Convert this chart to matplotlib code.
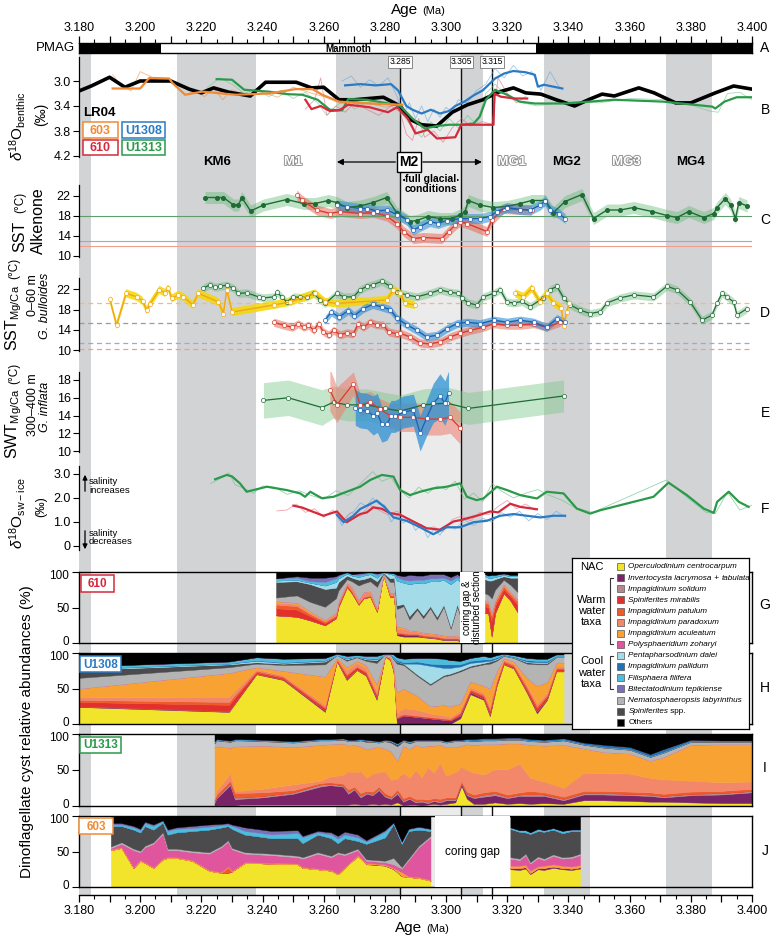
import numpy as np
import matplotlib

matplotlib.use("Agg")
import matplotlib.pyplot as plt
import matplotlib.patheffects as pe
import matplotlib.transforms as mtransforms
from matplotlib.patches import Rectangle

plt.rcParams["font.family"] = ["Liberation Sans", "DejaVu Sans"]
plt.rcParams["mathtext.fontset"] = "custom"
plt.rcParams["mathtext.rm"] = "Liberation Sans"
plt.rcParams["mathtext.it"] = "Liberation Sans:italic"
plt.rcParams["mathtext.bf"] = "Liberation Sans:bold"

nan = np.nan

# ---------------- stratigraphy ----------------
dark_bands = [(3.180, 3.184), (3.212, 3.238), (3.264, 3.285), (3.305, 3.312), (3.332, 3.347), (3.372, 3.387)]
light_band = (3.285, 3.305)
event_lines = [3.285, 3.305, 3.315]
pmag_black = [(3.180, 3.2068), (3.3295, 3.400)]
stage_names = ["KM6", "M1", "MG1", "MG2", "MG3", "MG4"]
stage_ages = [3.2250, 3.2500, 3.3215, 3.3395, 3.3590, 3.3800]
stage_bold = [True, False, False, True, False, True]

# ---------------- B: benthic d18O ----------------
lr04_age = [3.180, 3.184, 3.190, 3.195, 3.200, 3.210, 3.216, 3.220, 3.224, 3.229, 3.236, 3.241, 3.251, 3.256, 3.260,
            3.265, 3.270, 3.2795, 3.285, 3.288, 3.292, 3.297, 3.302, 3.307, 3.312, 3.317, 3.322, 3.326, 3.331, 3.336,
            3.342, 3.347, 3.351, 3.355, 3.363, 3.368, 3.375, 3.380, 3.388, 3.394, 3.400]
lr04_d18o = [3.16, 3.08, 2.94, 3.10, 3.00, 3.00, 3.13, 3.19, 3.11, 3.18, 3.24, 3.02, 3.02, 3.11, 3.10, 3.30, 3.30, 3.26,
             3.40, 3.61, 3.70, 3.72, 3.50, 3.38, 3.30, 3.18, 3.11, 3.19, 3.21, 3.30, 3.40, 3.29, 3.21, 3.24, 3.11, 3.19,
             3.35, 3.35, 3.19, 3.08, 3.13]
b603_age = [3.191, 3.200, 3.203, 3.2095, 3.2105, 3.2147, 3.2203, 3.2312, 3.2421, 3.2508, 3.2563, 3.2595, 3.2650, 3.2748, 3.2857]
b603_d18o = [3.12, 3.12, 2.95, 2.96, 3.03, 3.22, 3.17, 3.22, 3.20, 3.13, 3.13, 3.22, 3.33, 3.36, 3.38]
b610_age = [3.254, 3.256, 3.259, 3.262, 3.265, 3.268, 3.275, 3.281, 3.284, 3.2875, 3.290, 3.294, 3.297, 3.303, 3.305,
            3.3155, 3.3158, 3.3178, 3.3222, 3.3265]
b610_d18o = [3.30, 3.45, 3.40, 3.48, 3.47, 3.38, 3.42, 3.50, 3.42, 3.60, 3.84, 3.78, 3.92, 3.90, 3.70, 3.70, 3.20, 3.25,
             3.28, 3.28]
b1308_age = [3.267, 3.272, 3.277, 3.282, 3.2843, 3.287, 3.289, 3.292, 3.295, 3.298, 3.301, 3.303, 3.306, 3.309, 3.312,
             3.316, 3.319, 3.322, 3.326, 3.329, 3.330, 3.332, 3.338]
b1308_d18o = [3.07, 3.05, 3.07, 3.05, 3.15, 3.40, 3.46, 3.52, 3.46, 3.52, 3.48, 3.40, 3.33, 3.23, 3.15, 2.96, 2.88, 2.84,
              2.86, 2.90, 3.09, 3.06, 3.12]
b1313_age = [3.225, 3.230, 3.234, 3.242, 3.248, 3.253, 3.258, 3.262, 3.266, 3.268, 3.274, 3.280, 3.285, 3.289, 3.293,
             3.297, 3.301, 3.305, 3.309, 3.311, 3.313, 3.316, 3.320, 3.324, 3.329, 3.339, 3.355, 3.371, 3.387, 3.388,
             3.391, 3.395, 3.400]
b1313_d18o = [2.97, 2.98, 3.14, 3.17, 3.21, 3.22, 3.30, 3.46, 3.47, 3.29, 3.30, 3.35, 3.40, 3.60, 3.76, 3.72, 3.70, 3.70,
              3.68, 3.57, 3.30, 3.14, 3.22, 3.33, 3.36, 3.36, 3.30, 3.33, 3.41, 3.44, 3.33, 3.26, 3.26]
b603_raw_age = [3.191, 3.194, 3.197, 3.200, 3.203, 3.206, 3.209, 3.212, 3.215, 3.218, 3.221, 3.224, 3.227, 3.230, 3.233,
                3.236, 3.240, 3.245, 3.250, 3.255, 3.260, 3.265, 3.270, 3.275, 3.280, 3.285]
b603_raw = [2.90, 3.08, 3.16, 2.85, 2.92, 3.00, 2.98, 3.10, 3.22, 3.15, 3.25, 3.12, 3.30, 3.14, 3.20, 3.24, 3.18, 3.26,
            3.10, 3.18, 3.25, 3.35, 3.40, 3.34, 3.42, 3.36]
b610_raw_age = [3.254, 3.257, 3.259, 3.261, 3.264, 3.267, 3.270, 3.274, 3.278, 3.282, 3.285, 3.287, 3.289, 3.291, 3.293,
                3.296, 3.299, 3.302, 3.305, 3.308, 3.312, 3.315, 3.317, 3.320, 3.323, 3.326]
b610_raw = [3.45, 3.30, 2.95, 3.55, 3.40, 3.50, 3.35, 3.45, 3.55, 3.40, 3.50, 3.85, 3.95, 3.60, 3.90, 3.80, 3.98, 3.75,
            3.60, 3.72, 3.65, 3.70, 2.95, 3.20, 3.35, 3.25]
b1308_raw_age = [3.266, 3.269, 3.272, 3.275, 3.278, 3.281, 3.284, 3.286, 3.288, 3.290, 3.292, 3.294, 3.296, 3.298, 3.300,
                 3.302, 3.304, 3.307, 3.310, 3.313, 3.316, 3.319, 3.322, 3.325, 3.328, 3.331, 3.334, 3.337]
b1308_raw = [3.0, 2.92, 3.10, 2.98, 3.08, 2.95, 3.25, 3.55, 3.35, 3.60, 3.40, 3.65, 3.45, 3.58, 3.42, 3.50, 3.30, 3.35,
             3.15, 3.05, 2.80, 2.95, 2.75, 2.92, 2.85, 3.15, 2.85, 3.10]
b1313_raw_age = [3.222, 3.226, 3.230, 3.234, 3.238, 3.242, 3.246, 3.250, 3.254, 3.258, 3.261, 3.264, 3.267, 3.270, 3.274,
                 3.278, 3.282, 3.286, 3.289, 3.292, 3.295, 3.298, 3.301, 3.304, 3.307, 3.310, 3.313, 3.316, 3.320, 3.325,
                 3.330, 3.340, 3.350, 3.360, 3.372, 3.380, 3.386, 3.389, 3.392, 3.396, 3.400]
b1313_raw = [3.10, 2.95, 3.05, 3.20, 3.12, 3.25, 3.15, 3.28, 3.18, 3.35, 3.55, 3.40, 3.30, 3.45, 3.35, 3.40, 3.30, 3.55,
             3.75, 3.90, 3.65, 3.80, 3.60, 3.75, 3.55, 3.70, 3.20, 3.05, 3.25, 3.35, 3.40, 3.32, 3.35, 3.28, 3.30, 3.38,
             3.48, 3.50, 3.20, 3.18, 3.30]

# ---------------- C: alkenone SST ----------------
c1313_age = [3.2212, 3.2250, 3.2272, 3.2305, 3.2321, 3.2332, 3.2361, 3.2403, 3.2479, 3.2534, 3.2572, 3.2615, 3.2643,
             3.2675, 3.2719, 3.2762, 3.2806, 3.2839, 3.2882, 3.2904, 3.2941, 3.2980, 3.3019, 3.3046, 3.3062, 3.3073,
             3.3111, 3.3154, 3.3199, 3.3242, 3.3280, 3.3324, 3.3351, 3.3389, 3.3444, 3.3482, 3.3526, 3.3569, 3.3613,
             3.3673, 3.3722, 3.3755, 3.3793, 3.3842, 3.3875, 3.3886, 3.3913, 3.3930, 3.3946, 3.3957, 3.3984]
c1313_sst = [21.7, 21.7, 21.7, 20.2, 20.2, 21.7, 19.0, 20.2, 21.3, 20.5, 20.5, 21.1, 20.7, 19.7, 20.0, 20.7, 21.7, 18.6,
             16.9, 17.1, 17.9, 17.5, 17.5, 18.2, 18.9, 21.1, 20.2, 19.7, 19.9, 20.5, 21.1, 21.1, 18.7, 20.9, 22.3, 17.5,
             19.2, 19.2, 19.7, 18.9, 18.1, 17.7, 18.9, 17.7, 18.5, 19.7, 21.5, 20.2, 17.5, 20.7, 20.0]
c610_age = [3.2512, 3.2528, 3.2577, 3.2621, 3.2654, 3.2719, 3.2762, 3.2806, 3.2839, 3.2861, 3.2893, 3.2926, 3.2986,
            3.3008, 3.3030, 3.3046, 3.3068, 3.3133, 3.3150, 3.3188, 3.3242, 3.3280]
c610_sst = [22.2, 21.2, 19.2, 18.5, 18.9, 18.5, 18.7, 18.0, 16.5, 14.9, 13.5, 13.7, 13.5, 14.9, 16.2, 16.9, 16.5, 14.9,
            17.2, 19.5, 19.3, 19.2]
c1308_age = [3.2643, 3.2675, 3.2719, 3.2741, 3.2773, 3.2806, 3.2839, 3.2871, 3.2893, 3.2915, 3.2947, 3.2974, 3.3002,
             3.3046, 3.3079, 3.3111, 3.3144, 3.3166, 3.3199, 3.3242, 3.3275, 3.3308, 3.3324, 3.3341, 3.3368, 3.3389]
c1308_sst = [20.2, 19.9, 19.5, 19.5, 19.0, 19.2, 18.3, 17.3, 15.2, 15.9, 16.9, 16.5, 17.1, 17.5, 17.5, 17.5, 17.9, 18.9,
             19.7, 19.3, 19.2, 20.2, 21.1, 19.2, 18.5, 17.5]
c_modern = [18.1, 13.1, 12.0]  # U1313, U1308, 610 core-top

# ---------------- D: Mg/Ca SST G. bulloides ----------------
d603_age = [3.1901, 3.1923, 3.1954, 3.1989, 3.2008, 3.2021, 3.2032, 3.2063, 3.2081, 3.2092, 3.2103, 3.2125, 3.2141,
            3.2172, 3.2190, 3.2256, 3.2272, 3.2283, 3.2301, 3.2436, 3.2490, 3.2572, 3.2605, 3.2643, 3.2806, 3.2828,
            3.2850, 3.2865, 3.2898, nan, 3.3226, 3.3253, 3.3280, 3.3307, 3.3329, 3.3351, 3.3377, 3.3384, 3.3395, 3.3402]
d603_sst = [20.0, 14.9, 21.2, 20.5, 19.7, 17.9, 19.1, 21.9, 21.3, 22.2, 20.2, 20.9, 20.5, 18.9, 21.2, 19.5, 17.2, 21.9,
            17.5, 18.9, 19.5, 21.2, 19.5, 19.2, 19.9, 21.9, 21.2, 19.3, 18.9, nan, 21.2, 20.5, 22.2, 19.5, 21.2, 19.3,
            18.3, 14.7, 17.6, 19.3]
d1313_age = [3.2206, 3.2228, 3.2245, 3.2261, 3.2283, 3.2305, 3.2321, 3.2348, 3.2387, 3.2403, 3.2436, 3.2447, 3.2463,
             3.2479, 3.2501, 3.2523, 3.2545, 3.2567, 3.2588, 3.2605, 3.2643, 3.2665, 3.2697, 3.2719, 3.2741, 3.2762,
             3.2790, 3.2817, 3.2839, 3.2871, 3.2904, 3.2947, 3.2980, 3.3013, 3.3040, 3.3051, 3.3073, 3.3100, 3.3122,
             3.3155, 3.3177, 3.3199, 3.3221, 3.3248, 3.3275, 3.3318, 3.3340, 3.3362, 3.3384, 3.3406, 3.3438, 3.3471,
             3.3504, 3.3526, 3.3569, 3.3613, 3.3678, 3.3722, 3.3755, 3.3798, 3.3837, 3.3869, 3.3886, 3.3902, 3.3918,
             3.3940, 3.3951, 3.3984]
d1313_sst = [22.2, 22.9, 22.4, 22.6, 22.8, 22.2, 21.2, 21.3, 20.5, 20.3, 20.5, 21.4, 20.5, 19.5, 20.5, 20.4, 20.5, 21.2,
             19.9, 19.2, 21.2, 20.5, 20.5, 21.9, 22.6, 22.9, 23.6, 22.6, 21.4, 20.9, 20.5, 21.2, 21.9, 21.4, 21.2, 20.3,
             19.3, 18.9, 20.5, 21.2, 21.9, 19.5, 19.3, 19.6, 18.6, 20.3, 21.9, 22.6, 20.3, 18.9, 17.9, 17.2, 17.6, 19.3,
             20.3, 20.9, 20.5, 22.6, 21.9, 19.5, 15.9, 16.9, 19.3, 21.2, 20.5, 19.5, 16.9, 18.2]
d610_age = [3.2436, 3.2469, 3.2497, 3.2517, 3.2534, 3.2550, 3.2567, 3.2583, 3.2599, 3.2616, 3.2632, 3.2654, 3.2675,
            3.2697, 3.2713, 3.2730, 3.2752, 3.2773, 3.2795, 3.2812, 3.2839, 3.2850, 3.2882, 3.2915, 3.2947, 3.2980,
            3.3013, 3.3046, 3.3079, 3.3122, 3.3155, 3.3199, 3.3242, 3.3286, 3.3329, 3.3373]
d610_sst = [15.5, 14.9, 14.5, 15.2, 14.5, 14.9, 13.9, 15.2, 13.6, 13.0, 13.9, 13.0, 13.4, 13.2, 15.2, 14.5, 15.5, 15.0,
            14.9, 13.6, 13.2, 13.3, 12.6, 11.4, 11.2, 11.6, 12.6, 13.3, 13.9, 14.5, 15.2, 14.9, 14.9, 15.2, 14.5, 15.5]
d1308_age = [3.2605, 3.2625, 3.2650, 3.2680, 3.2700, 3.2730, 3.2760, 3.2790, 3.2817, 3.2839, 3.2871, 3.2904, 3.2936,
             3.2969, 3.3002, 3.3035, 3.3068, 3.3111, 3.3155, 3.3199, 3.3242, 3.3286, 3.3329, 3.3362, 3.3389]
d1308_sst = [16.0, 17.5, 16.5, 17.8, 16.8, 18.2, 19.0, 18.5, 18.0, 16.3, 15.0, 13.9, 12.6, 12.9, 14.2, 15.2, 15.5, 15.2,
             15.9, 15.5, 15.9, 15.5, 14.5, 16.2, 15.5]
d_modern = [19.2, 15.3, 11.3, 10.3]  # 603, U1313(grey), U1308, 610

# ---------------- E: Mg/Ca SWT G. inflata ----------------
e1313_age = [3.2403, 3.2484, 3.2594, 3.2632, 3.2675, 3.2741, 3.2800, 3.2850, 3.2926, 3.3002, 3.3073, 3.3384]
e1313_swt = [15.7, 16.0, 14.9, 15.5, 15.2, 15.2, 14.8, 14.5, 15.2, 15.4, 14.8, 16.2]
e1313_err = [2.0, 2.0, 2.0, 1.8, 1.8, 1.8, 1.8, 1.8, 1.8, 1.8, 1.8, 1.8]
e610_age = [3.2620, 3.2643, 3.2697, 3.2719, 3.2752, 3.2784, 3.2817, 3.2850, 3.2893, 3.2936, 3.2980, 3.3013, 3.3046]
e610_swt = [16.9, 15.2, 17.6, 15.2, 15.5, 14.7, 14.0, 13.8, 13.8, 13.6, 13.6, 13.8, 12.6]
e610_err = [2.4, 2.0, 1.3, 1.3, 1.2, 1.2, 1.4, 1.6, 1.6, 1.8, 1.8, 1.8, 1.8]
e1308_age = [3.2703, 3.2719, 3.2741, 3.2762, 3.2775, 3.2790, 3.2806, 3.2820, 3.2833, 3.2861, 3.2893, 3.2915, 3.2936,
             3.2958, 3.2980, 3.2996, 3.3008]
e1308_swt = [14.9, 14.6, 14.5, 14.0, 14.3, 13.0, 13.0, 13.9, 13.9, 14.4, 14.6, 12.0, 13.7, 15.4, 16.2, 15.4, 16.5]
e1308_err = [2.0, 2.0, 2.0, 2.2, 2.2, 2.0, 1.8, 1.8, 1.8, 1.8, 1.8, 2.0, 2.0, 2.2, 2.5, 2.5, 2.5]

# ---------------- F: d18O seawater (ice-volume corrected) ----------------
f1313_age = [3.2245, 3.2283, 3.2300, 3.2326, 3.2348, 3.2414, 3.2479, 3.2523, 3.2539, 3.2556, 3.2594, 3.2632, 3.2675,
             3.2719, 3.2752, 3.2790, 3.2828, 3.2850, 3.2882, 3.2915, 3.2958, 3.3002, 3.3046, 3.3068, 3.3100, 3.3122,
             3.3166, 3.3199, 3.3242, 3.3297, 3.3329, 3.3384, 3.3427, 3.3471, 3.3504, 3.3678, 3.3727, 3.3787, 3.3842,
             3.3875, 3.3886, 3.3924, 3.3957, 3.3989]
f1313_sw = [2.78, 2.96, 2.90, 2.61, 2.26, 2.47, 2.33, 2.19, 2.05, 2.26, 1.99, 2.05, 2.26, 2.47, 2.75, 2.96, 2.89, 2.33,
            2.12, 2.26, 2.40, 2.47, 2.61, 2.05, 1.91, 1.98, 2.47, 2.33, 2.12, 1.98, 2.26, 2.19, 1.56, 1.35, 1.49, 2.05,
            2.64, 2.12, 1.56, 1.38, 1.84, 2.26, 1.84, 1.63]
f610_age = [3.2501, 3.2530, 3.2560, 3.2599, 3.2643, 3.2675, 3.2719, 3.2741, 3.2762, 3.2790, 3.2817, 3.2850, 3.2893,
            3.2936, 3.2980, 3.3024, 3.3051, 3.3111, 3.3144, 3.3170, 3.3210, 3.3242, 3.3297]
f610_sw = [1.68, 1.60, 1.45, 1.26, 1.44, 0.99, 1.33, 1.40, 1.61, 1.55, 1.37, 1.30, 1.02, 0.74, 0.68, 1.02, 1.09, 1.30,
           1.44, 1.40, 1.76, 1.63, 1.53]
f1308_age = [3.2643, 3.2665, 3.2697, 3.2719, 3.2741, 3.2773, 3.2800, 3.2828, 3.2871, 3.2915, 3.2958, 3.3002, 3.3046,
             3.3090, 3.3133, 3.3177, 3.3221, 3.3264, 3.3308, 3.3351, 3.3389]
f1308_sw = [1.30, 0.99, 1.26, 1.54, 1.68, 1.89, 1.61, 1.19, 1.05, 0.78, 0.49, 0.78, 0.78, 0.99, 1.05, 1.26, 1.33, 1.26,
            1.19, 1.26, 1.26]
f1313_raw_age = [3.2230, 3.2260, 3.2290, 3.2310, 3.2340, 3.2370, 3.2400, 3.2440, 3.2480, 3.2520, 3.2560, 3.2600, 3.2640,
                 3.2680, 3.2720, 3.2760, 3.2790, 3.2820, 3.2850, 3.2880, 3.2910, 3.2940, 3.2970, 3.3000, 3.3030, 3.3060,
                 3.3090, 3.3120, 3.3150, 3.3180, 3.3220, 3.3260, 3.3300, 3.3340, 3.3380, 3.3420, 3.3480, 3.3720, 3.3790,
                 3.3850, 3.3880, 3.3920, 3.3960, 3.4000]
f1313_raw = [2.6, 2.8, 3.05, 2.55, 2.4, 2.2, 2.5, 2.45, 2.15, 2.3, 2.1, 1.95, 2.3, 2.1, 2.6, 3.1, 2.7, 2.85, 2.3, 2.0,
             2.45, 2.2, 2.5, 2.35, 2.7, 1.95, 2.2, 1.85, 2.6, 2.3, 2.0, 2.2, 2.35, 2.1, 1.9, 1.6, 1.4, 2.75, 2.0, 1.4,
             1.35, 2.25, 1.5, 1.7]
f610_raw_age = [3.2447, 3.2480, 3.2510, 3.2540, 3.2570, 3.2600, 3.2630, 3.2660, 3.2690, 3.2720, 3.2750, 3.2780, 3.2810,
                3.2840, 3.2870, 3.2900, 3.2930, 3.2960, 3.2990, 3.3020, 3.3050, 3.3080, 3.3110, 3.3140, 3.3170, 3.3200,
                3.3230, 3.3260, 3.3290]
f610_raw = [1.46, 1.50, 1.75, 1.40, 1.55, 1.20, 1.50, 1.05, 1.40, 1.25, 1.70, 1.50, 1.30, 1.45, 1.15, 0.95, 0.70, 0.80,
            0.60, 1.10, 1.25, 1.05, 1.40, 1.30, 1.65, 1.90, 1.55, 1.75, 1.50]
f1308_raw_age = [3.2640, 3.2660, 3.2680, 3.2700, 3.2720, 3.2740, 3.2760, 3.2780, 3.2800, 3.2820, 3.2840, 3.2860, 3.2880,
                 3.2900, 3.2920, 3.2940, 3.2960, 3.2980, 3.3000, 3.3030, 3.3060, 3.3090, 3.3120, 3.3150, 3.3180, 3.3210,
                 3.3240, 3.3270, 3.3300, 3.3330, 3.3360, 3.3390]
f1308_raw = [1.35, 0.85, 1.30, 1.45, 1.80, 1.65, 2.00, 1.75, 1.70, 1.00, 1.30, 0.95, 1.15, 0.65, 0.90, 0.35, 0.70, 0.45,
             0.85, 0.70, 1.10, 0.85, 1.15, 1.00, 1.40, 1.20, 1.45, 1.05, 1.35, 1.10, 1.45, 1.20]

# ---------------- G-J: dinocyst assemblages (%) ----------------
# legend entries: (pieces of label text, italic flag)
legend_labels = [[("Operculodinium centrocarpum", True)],
                 [("Invertocysta lacrymosa", True), (" + ", False), ("tabulata", True)],
                 [("Impagidinium solidum", True)], [("Spiniferites mirabilis", True)],
                 [("Impagidinium patulum", True)], [("Impagidinium paradoxum", True)],
                 [("Impagidinium aculeatum", True)], [("Polysphaeridium zoharyi", True)],
                 [("Pentapharsodinium dalei", True)], [("Impagidinium pallidum", True)],
                 [("Filisphaera filifera", True)], [("Bitectatodinium tepikiense", True)],
                 [("Nematosphaeropsis labyrinthus", True)], [("Spiniferites", True), (" spp.", False)],
                 [("Others", False)]]
legend_colors = ["#f1e42a", "#7a2468", "#b38a90", "#e3302c", "#ee5a29", "#f3876a", "#f7a233", "#df569f",
                 "#a3dbe8", "#2072b6", "#4dbddb", "#7b6fb8", "#b4b4b5", "#4b4b4d", "#000000"]
# stacking order from the bottom of each panel (indices into legend lists)
stack_order = [0, 1, 2, 3, 4, 5, 6, 7, 12, 13, 8, 9, 10, 11, 14]

# site 610
g_age = [3.2444, 3.2512, 3.2555, 3.2604, 3.2640, 3.2648, 3.2676, 3.2692, 3.2714, 3.2730, 3.2752, 3.2774, 3.2795, 3.2817,
         3.2830, 3.2839, 3.2861, 3.2880, 3.2905, 3.2925, 3.2948, 3.2970, 3.2992, 3.3015, 3.3036, 3.3046, nan,
         3.3127, 3.3138, 3.3149, 3.3160, 3.3188, 3.3210, 3.3233]
g_ocen = [39, 37, 32, 25, 35, 51, 79, 70, 54, 63, 65, 44, 96, 65, 65, 11, 9, 9, 9, 8, 7, 6, 4, 4, 4, 2, 0,
          42, 42, 9, 42, 70, 60, 44]
g_inve = [0, 0, 0, 0, 0, 0, 0, 0, 0, 0, 0, 0, 0, 0, 0, 2, 3, 2, 2, 1, 1, 1, 1, 1, 1, 1, 0, 0, 0, 1, 0, 0, 0, 0]
g_mira = [10, 10, 6, 3, 2, 2, 1, 2, 1, 1, 1, 1, 0, 1, 1, 1, 1, 1, 1, 1, 1, 1, 1, 1, 1, 1, 0, 10, 8, 20, 10, 6, 6, 10]
g_patu = [5, 5, 3, 2, 2, 2, 2, 1, 1, 1, 1, 1, 0, 1, 1, 1, 1, 1, 1, 1, 1, 1, 1, 1, 1, 1, 0, 5, 5, 8, 5, 4, 3, 5]
g_para = [3, 3, 2, 2, 3, 3, 2, 5, 4, 6, 5, 2, 1, 3, 3, 5, 6, 4, 3, 3, 3, 3, 3, 2, 3, 2, 0, 2, 2, 3, 2, 2, 2, 2]
g_acul = [2, 2, 2, 1, 1, 1, 1, 1, 1, 1, 1, 1, 0, 1, 1, 3, 2, 1, 1, 1, 1, 1, 1, 1, 1, 1, 0, 1, 1, 2, 1, 1, 1, 1]
g_nema = [5, 10, 13, 18, 20, 15, 5, 8, 20, 12, 14, 30, 1, 15, 15, 25, 30, 15, 30, 20, 35, 20, 40, 10, 40, 30, 0,
          10, 10, 20, 15, 6, 10, 10]
g_spin = [22, 20, 25, 25, 15, 12, 5, 5, 8, 6, 6, 8, 1, 5, 6, 5, 3, 5, 3, 4, 3, 4, 3, 3, 4, 3, 0, 20, 20, 25, 15, 5, 10, 20]
g_dale = [2, 2, 2, 5, 8, 5, 3, 3, 4, 5, 4, 5, 1, 6, 4, 35, 30, 45, 35, 45, 35, 50, 35, 60, 35, 45, 0, 4, 4, 4, 3, 2, 2, 2]
g_fili = [3, 3, 2, 5, 5, 3, 2, 2, 3, 2, 3, 4, 0, 2, 2, 5, 4, 5, 4, 5, 4, 4, 3, 5, 3, 4, 0, 3, 3, 4, 3, 2, 2, 2]
g_tepi = [0, 2, 5, 6, 3, 2, 0, 0, 2, 2, 0, 2, 0, 0, 0, 3, 5, 8, 6, 6, 6, 6, 5, 5, 4, 4, 0, 0, 0, 0, 0, 0, 0, 0]

# site U1308
h_age = [3.180, 3.229, 3.238, 3.2467, 3.2604, 3.2643, 3.2675, 3.2708, 3.2738, 3.2773, 3.2800, 3.2817, 3.2828, 3.2839,
         3.2861, 3.2905, 3.2948, 3.2992, 3.3013, 3.3046, 3.3079, 3.3123, 3.3143, 3.3165, 3.3188, 3.3221, 3.3264,
         3.3297, 3.3330, 3.3360, 3.3384]
h_ocen = [24, 17, 70, 62, 17, 88, 62, 76, 68, 34, 95, 90, 74, 0, 0, 0, 0, 0, 0, 8, 42, 34, 11, 53, 84, 78, 44, 15, 34, 74, 74]
h_inve = [1, 1, 1, 1, 2, 1, 2, 1, 1, 3, 0, 1, 1, 8, 12, 10, 8, 6, 5, 4, 3, 2, 3, 2, 1, 1, 2, 3, 2, 1, 1]
h_mira = [6, 9, 2, 2, 3, 1, 4, 3, 3, 3, 1, 1, 2, 1, 1, 1, 1, 1, 1, 2, 2, 3, 4, 3, 2, 2, 3, 4, 3, 2, 2]
h_patu = [3, 4, 2, 2, 2, 1, 2, 1, 2, 2, 0, 1, 1, 1, 1, 1, 1, 1, 1, 2, 2, 2, 3, 2, 2, 2, 3, 3, 2, 2, 2]
h_para = [4, 7, 2, 2, 3, 1, 6, 5, 5, 4, 0, 1, 2, 5, 8, 8, 5, 4, 3, 3, 3, 3, 4, 4, 2, 2, 3, 4, 3, 2, 2]
h_acul = [12, 34, 3, 6, 40, 1, 4, 3, 4, 10, 0, 1, 3, 30, 28, 20, 10, 15, 15, 10, 8, 10, 25, 10, 2, 3, 10, 25, 15, 5, 5]
h_nema = [15, 8, 5, 8, 17, 4, 9, 5, 6, 30, 2, 3, 8, 40, 33, 28, 30, 40, 44, 45, 20, 30, 35, 15, 3, 5, 20, 30, 25, 8, 8]
h_spin = [11, 4, 2, 2, 4, 0, 2, 1, 2, 4, 0, 0, 2, 3, 2, 2, 2, 2, 2, 2, 2, 2, 3, 2, 1, 1, 2, 2, 2, 1, 1]
h_dale = [1, 1, 2, 1, 1, 0, 1, 0, 1, 1, 0, 0, 1, 0, 0, 15, 25, 10, 8, 5, 4, 2, 1, 1, 0, 0, 1, 1, 1, 0, 0]
h_pall = [1, 0, 1, 1, 1, 0, 1, 0, 1, 1, 0, 0, 1, 2, 2, 3, 3, 5, 5, 3, 3, 3, 2, 2, 1, 1, 2, 2, 2, 1, 1]
h_fili = [3, 3, 4, 5, 3, 2, 3, 2, 3, 4, 1, 1, 3, 4, 5, 5, 8, 8, 6, 5, 4, 5, 3, 3, 1, 2, 3, 3, 3, 2, 2]

# site U1313
i_age = [3.2243, 3.2250, 3.2294, 3.2310, 3.2327, 3.2400, 3.2500, 3.2588, 3.2620, 3.2663, 3.2680, 3.2700, 3.2720,
         3.2740, 3.2760, 3.2780, 3.2800, 3.2820, 3.2840, 3.2860, 3.2880, 3.2900, 3.2920, 3.2940, 3.2960, 3.2980,
         3.3000, 3.3030, 3.3050, 3.3068, 3.3090, 3.3123, 3.3160, 3.3200, 3.3240, 3.3275, 3.3320, 3.3384, 3.3450,
         3.3514, 3.3600, 3.3667, 3.3711, 3.3800, 3.3900, 3.4000]
i_ocen = [0, 1, 1, 1, 2, 2, 2, 2, 2, 2, 2, 3, 2, 2, 3, 2, 3, 2, 5, 1, 2, 2, 1, 2, 3, 2, 3, 5, 28, 10, 3, 3, 5, 3, 4, 3,
          4, 3, 8, 8, 7, 6, 6, 5, 4, 4]
i_inve = [5, 10, 28, 8, 8, 10, 15, 25, 27, 25, 15, 20, 10, 15, 12, 20, 10, 8, 12, 5, 8, 3, 5, 2, 4, 3, 5, 3, 3, 5, 8,
          10, 10, 8, 10, 11, 10, 5, 8, 8, 8, 8, 6, 10, 12, 15]
i_soli = [2, 2, 3, 3, 2, 2, 2, 3, 2, 2, 3, 2, 3, 2, 2, 3, 2, 2, 3, 2, 2, 2, 2, 2, 2, 2, 2, 2, 1, 2, 2, 3, 3, 2, 2, 3,
          2, 2, 2, 2, 2, 2, 2, 2, 2, 2]
i_patu = [2, 3, 3, 6, 6, 5, 3, 2, 2, 2, 3, 2, 3, 2, 3, 2, 3, 2, 3, 3, 2, 3, 2, 3, 2, 3, 2, 2, 2, 3, 3, 3, 3, 3, 3, 4,
          3, 3, 3, 3, 3, 3, 3, 3, 3, 3]
i_para = [3, 5, 10, 3, 3, 5, 8, 3, 8, 12, 25, 20, 30, 18, 25, 20, 30, 22, 15, 35, 25, 40, 30, 45, 35, 50, 30, 35, 20,
          30, 30, 25, 30, 35, 40, 18, 15, 12, 25, 25, 25, 20, 20, 15, 12, 10]
i_acul = [70, 62, 36, 62, 62, 60, 52, 50, 45, 44, 36, 38, 35, 40, 36, 35, 32, 40, 25, 38, 40, 35, 42, 30, 38, 25, 40,
          35, 30, 36, 39, 42, 35, 36, 28, 46, 50, 60, 34, 29, 28, 24, 31, 50, 53, 52]
i_nema = [5, 8, 8, 8, 8, 6, 6, 6, 5, 5, 6, 5, 8, 10, 8, 6, 10, 12, 20, 6, 8, 5, 8, 6, 6, 5, 6, 8, 6, 5, 5, 5, 5, 5, 5,
          5, 5, 6, 5, 6, 5, 5, 6, 4, 3, 3]
i_spin = [2, 1, 1, 1, 1, 1, 1, 1, 1, 1, 1, 1, 1, 2, 1, 1, 1, 2, 3, 1, 2, 1, 1, 1, 1, 1, 1, 1, 1, 1, 1, 1, 1, 1, 1, 1,
          1, 1, 1, 1, 1, 1, 1, 1, 1, 1]
i_pall = [1, 1, 1, 1, 1, 1, 1, 1, 1, 1, 1, 1, 1, 1, 1, 1, 1, 1, 1, 1, 1, 1, 1, 1, 1, 1, 1, 1, 1, 1, 2, 2, 2, 2, 2, 2,
          2, 2, 2, 3, 3, 3, 4, 2, 1, 1]

# site 603
j_age = [3.1904, 3.1939, 3.1978, 3.2000, 3.2015, 3.2043, 3.2074, 3.2090, 3.2118, 3.2170, 3.2225, 3.2265, 3.2287,
         3.2300, 3.2342, 3.2428, 3.2515, 3.2531, 3.2580, 3.2624, 3.2646, 3.2668, 3.2711, 3.2739, 3.2800, 3.2828,
         3.2855, 3.2877, 3.2910, 3.2949, nan, 3.3210, 3.3240, 3.3260, 3.3275, 3.3300, 3.3320, 3.3350, 3.3380,
         3.3410, 3.3438]
j_ocen = [52, 55, 27, 37, 34, 27, 39, 41, 41, 37, 23, 20, 20, 22, 34, 33, 32, 27, 25, 23, 18, 27, 44, 32, 30, 25, 15,
          14, 13, 9, 0, 25, 24, 26, 18, 25, 24, 27, 25, 24, 26]
j_inve = [0, 0, 0, 0, 0, 0, 0, 0, 0, 0, 0, 0, 0, 0, 0, 0, 0, 0, 0, 0, 0, 0, 0, 1, 1, 1, 1, 0, 0, 0, 0,
          2, 3, 2, 2, 2, 3, 2, 2, 2, 2]
j_patu = [0, 0, 0, 0, 0, 0, 0, 0, 0, 0, 0, 0, 8, 0, 0, 0, 0, 0, 0, 0, 0, 0, 0, 0, 0, 0, 0, 0, 0, 0, 0,
          0, 0, 0, 0, 0, 0, 0, 0, 0, 0]
j_acul = [1, 1, 1, 1, 1, 1, 1, 1, 1, 1, 1, 1, 1, 1, 1, 1, 1, 1, 1, 1, 1, 1, 1, 1, 1, 1, 5, 1, 1, 1, 0,
          3, 3, 3, 3, 2, 3, 3, 3, 3, 3]
j_zoha = [2, 5, 24, 11, 21, 33, 35, 10, 10, 11, 23, 35, 35, 30, 12, 11, 9, 12, 21, 18, 28, 17, 7, 3, 3, 5, 5, 23, 42,
          60, 0, 10, 8, 14, 10, 12, 8, 12, 10, 12, 14]
j_nema = [2, 2, 2, 2, 2, 2, 2, 2, 2, 2, 2, 2, 2, 2, 2, 2, 2, 2, 2, 2, 2, 2, 2, 2, 2, 9, 2, 2, 2, 2, 0,
          2, 2, 2, 2, 2, 2, 2, 2, 2, 2]
j_spin = [29, 23, 27, 26, 28, 18, 14, 20, 23, 28, 32, 26, 20, 27, 25, 22, 25, 20, 25, 25, 13, 22, 11, 22, 33, 48, 33,
          39, 23, 7, 0, 40, 38, 30, 40, 36, 38, 35, 34, 36, 32]
j_fili = [2, 2, 3, 3, 4, 5, 2, 5, 5, 4, 4, 3, 2, 4, 5, 5, 7, 8, 3, 5, 6, 5, 5, 3, 8, 1, 2, 2, 3, 2, 0,
          2, 2, 3, 2, 3, 2, 2, 3, 2, 2]
j_tepi = [2, 2, 2, 2, 2, 2, 1, 2, 2, 3, 3, 2, 2, 2, 5, 5, 4, 2, 2, 3, 4, 4, 4, 2, 2, 1, 1, 1, 1, 1, 0,
          0, 0, 0, 0, 0, 0, 0, 0, 0, 0]

# ---------------- colours ----------------
C603, C610, C1308, C1313 = "#ef8a35", "#d42a3c", "#2a7bc4", "#2a9a4a"
DARK, LIGHT = "#d2d3d5", "#ebebeb"

W, H = 775, 939
X0, X1 = 79, 752
fig = plt.figure(figsize=(W / 100, H / 100), dpi=100)


def rect(top, bottom, left=X0, right=X1):
    return [left / W, 1 - bottom / H, (right - left) / W, (bottom - top) / H]


def ftext(x, y, s, **kw):
    kw.setdefault("ha", "center")
    kw.setdefault("va", "center")
    return fig.text(x / W, 1 - y / H, s, **kw)


def fbox(x0, y0, x1, y1, color, label, fs=9):
    fig.add_artist(Rectangle((x0 / W, 1 - y1 / H), (x1 - x0) / W, (y1 - y0) / H, transform=fig.transFigure,
                             fc="white", ec=color, lw=1.1, zorder=5))
    ftext((x0 + x1) / 2, (y0 + y1) / 2 + 0.5, label, color=color, fontsize=fs, fontweight="bold", zorder=6)


# background: glacial bands, event lines, stage names (x = age, y = pixel row)
bg = fig.add_axes(rect(0, H))
bg.set_xlim(3.18, 3.40)
bg.set_ylim(H, 0)
bg.axis("off")
for a0, a1 in dark_bands:
    bg.add_patch(Rectangle((a0, 53), a1 - a0, 842, fc=DARK, lw=0, zorder=0))
bg.add_patch(Rectangle((light_band[0], 53), light_band[1] - light_band[0], 842, fc=LIGHT, lw=0, zorder=0))
for a in event_lines:
    bg.plot([a, a], [67, 895], color="#111111", lw=1.0, zorder=1)
    bg.text(a, 62, f"{a:.3f}", fontsize=6.2, ha="center", va="center", zorder=3,
            bbox=dict(boxstyle="square,pad=0.12", fc="white", ec="#777777", lw=0.6))
for name, a, bold in zip(stage_names, stage_ages, stage_bold):
    if bold:
        bg.text(a, 162, name, fontsize=9.5, fontweight="bold", ha="center", va="center", zorder=3)
    else:
        bg.text(a, 162, name, fontsize=9.5, fontweight="bold", ha="center", va="center", zorder=3, color="white",
                path_effects=[pe.withStroke(linewidth=1.3, foreground="#8c8c8c")])
bg.annotate("", xy=(3.2643, 162), xytext=(3.2834, 162),
            arrowprops=dict(arrowstyle="-|>", color="k", lw=0.9, mutation_scale=9, shrinkA=0, shrinkB=0))
bg.annotate("", xy=(3.3117, 162), xytext=(3.2924, 162),
            arrowprops=dict(arrowstyle="-|>", color="k", lw=0.9, mutation_scale=9, shrinkA=0, shrinkB=0))
bg.text(3.2879, 162, "M2", fontsize=10, fontweight="bold", ha="center", va="center", zorder=4,
        bbox=dict(boxstyle="square,pad=0.2", fc="white", ec="k", lw=1.0))
bg.annotate("", xy=(3.2857, 180), xytext=(3.3043, 180),
            arrowprops=dict(arrowstyle="<|-|>", color="k", lw=0.6, mutation_scale=5, shrinkA=0, shrinkB=0))
bg.text(3.295, 179.5, "full glacial", fontsize=7.5, fontweight="bold", ha="center", va="center", zorder=4,
        bbox=dict(boxstyle="square,pad=0.05", fc=LIGHT, ec="none"))
bg.text(3.295, 189, "conditions", fontsize=7.5, fontweight="bold", ha="center", va="center", zorder=4)

# A: palaeomagnetic polarity
pm = fig.add_axes(rect(43, 53))
pm.set_xlim(3.18, 3.40)
pm.set_ylim(0, 1)
for a0, a1 in pmag_black:
    pm.add_patch(Rectangle((a0, 0), a1 - a0, 1, fc="black", lw=0))
pm.text(3.268, 0.45, "Mammoth", fontsize=7, fontweight="bold", ha="center", va="center")
pm.set_yticks([])
pm.xaxis.tick_top()
major = np.round(np.arange(3.18, 3.4001, 0.01), 3)
pm.set_xticks(major)
pm.set_xticklabels([f"{v:.3f}" if i % 2 == 0 else "" for i, v in enumerate(major)])
pm.set_xticks(np.round(np.arange(3.185, 3.40, 0.01), 3), minor=True)
pm.tick_params(axis="x", which="major", length=5, width=0.9, labelsize=9, pad=1.5)
pm.tick_params(axis="x", which="minor", length=3, width=0.8)
for s in pm.spines.values():
    s.set_linewidth(1.0)


def line_panel(top, bottom, ylim, ticks, labels):
    ax = fig.add_axes(rect(top, bottom))
    ax.set_xlim(3.18, 3.40)
    ax.set_ylim(*ylim)
    ax.patch.set_visible(False)
    for s in ("top", "right", "bottom"):
        ax.spines[s].set_visible(False)
    ax.spines["left"].set_linewidth(0.9)
    ax.set_xticks([])
    ax.set_yticks(ticks)
    ax.set_yticklabels(labels)
    ax.tick_params(axis="y", length=4, width=0.8, labelsize=9, pad=2)
    return ax


def band(ax, age, val, err, color, alpha):
    v = np.asarray(val, float)
    e = np.asarray(err, float)
    ax.fill_between(age, v - e, v + e, color=color, alpha=alpha, lw=0)


# B
axb = line_panel(57, 157, (4.216, 2.616), [3.0, 3.4, 3.8, 4.2], ["3.0", "3.4", "3.8", "4.2"])
for age, val, col in [(b603_raw_age, b603_raw, C603), (b610_raw_age, b610_raw, "#e0607a"),
                      (b1308_raw_age, b1308_raw, "#5aa6e0"), (b1313_raw_age, b1313_raw, "#6cc48a")]:
    axb.plot(age, val, color=col, lw=0.6, alpha=0.6)
axb.plot(lr04_age, lr04_d18o, color="black", lw=2.6)
axb.plot(b1313_age, b1313_d18o, color=C1313, lw=1.6)
axb.plot(b603_age, b603_d18o, color=C603, lw=1.6)
axb.plot(b610_age, b610_d18o, color=C610, lw=1.6)
axb.plot(b1308_age, b1308_d18o, color=C1308, lw=1.6)

# C
axc = line_panel(185, 257, (9.8, 24.2), [10, 14, 18, 22], ["10", "14", "18", "22"])
for val, col in zip(c_modern, ["#5e9e6c", "#93a9d8", "#f0a092"]):
    axc.axhline(val, color=col, lw=0.8)
band(axc, c1313_age, c1313_sst, 1.2, "#5cb870", 0.4)
band(axc, c610_age, c610_sst, 1.0, "#e8604c", 0.5)
band(axc, c1308_age, c1308_sst, 1.0, "#2e8fd8", 0.55)
axc.plot(c1313_age, c1313_sst, color="#1f6b35", lw=1.0, marker="o", ms=2.6, mec="#1f6b35", mfc="#1f6b35")
axc.plot(c610_age, c610_sst, color="#d83b2d", lw=1.0, marker="o", ms=3, mfc="white", mec="#d83b2d", mew=0.5)
axc.plot(c1308_age, c1308_sst, color="#1c5fb5", lw=1.0, marker="o", ms=3, mfc="white", mec="#1c5fb5", mew=0.5)

# D
axd = line_panel(278, 351, (9.81, 24.23), [10, 14, 18, 22], ["10", "14", "18", "22"])
for val, col in zip(d_modern, ["#f5b97a", "#9a9a9a", "#9aa8dd", "#f09a9a"]):
    axd.axhline(val, color=col, lw=0.9, dashes=(4, 3))
band(axd, d1313_age, d1313_sst, 0.8, "#5cb870", 0.4)
band(axd, d603_age, d603_sst, 0.8, "#f5d800", 0.85)
band(axd, d610_age, d610_sst, 0.8, "#e8604c", 0.5)
band(axd, d1308_age, d1308_sst, 0.8, "#2e8fd8", 0.6)
axd.plot(d1313_age, d1313_sst, color="#1f6b35", lw=0.9, marker="o", ms=3, mfc="white", mec="#1f6b35", mew=0.5)
axd.plot(d603_age, d603_sst, color="#f2a51c", lw=1.0, marker="o", ms=3, mfc="white", mec="#f2a51c", mew=0.5)
axd.plot(d610_age, d610_sst, color="#d83b2d", lw=1.0, marker="o", ms=3, mfc="white", mec="#d83b2d", mew=0.5)
axd.plot(d1308_age, d1308_sst, color="#1c5fb5", lw=1.0, marker="o", ms=3, mfc="white", mec="#1c5fb5", mew=0.5)

# E
axe = line_panel(372, 452, (9.89, 18.9), [10, 12, 14, 16, 18], ["10", "12", "14", "16", "18"])
band(axe, e1313_age, e1313_swt, e1313_err, "#7cc98a", 0.45)
band(axe, e610_age, e610_swt, e610_err, "#ee7b6a", 0.55)
band(axe, e1308_age, e1308_swt, e1308_err, "#2f93d6", 0.75)
axe.plot(e1313_age, e1313_swt, color="#1f6b35", lw=0.9, marker="o", ms=3, mfc="white", mec="#1f6b35", mew=0.5)
axe.plot(e610_age, e610_swt, color="#d83b2d", lw=0.9, marker="o", ms=3, mfc="white", mec="#d83b2d", mew=0.5)
axe.plot(e1308_age, e1308_swt, color="#1c5fb5", lw=0.9, marker="o", ms=3, mfc="white", mec="#1c5fb5", mew=0.5)

# F
axf = line_panel(466, 550, (-0.167, 3.333), [0, 1, 2, 3], ["0", "1.0", "2.0", "3.0"])
axf.plot(f1313_raw_age, f1313_raw, color="#6cc48a", lw=0.6, alpha=0.7)
axf.plot(f610_raw_age, f610_raw, color="#ee7b8a", lw=0.6, alpha=0.7)
axf.plot(f1308_raw_age, f1308_raw, color="#6aaee6", lw=0.6, alpha=0.7)
axf.plot(f1313_age, f1313_sw, color=C1313, lw=1.6)
axf.plot(f610_age, f610_sw, color=C610, lw=1.6)
axf.plot(f1308_age, f1308_sw, color=C1308, lw=1.6)

stack_colors = [legend_colors[k] for k in stack_order]
nudge_up = mtransforms.ScaledTranslation(0, 0.025, fig.dpi_scale_trans)
nudge_down = mtransforms.ScaledTranslation(0, -0.025, fig.dpi_scale_trans)


def stack_panel(top, bottom, age, layers):
    ax = fig.add_axes(rect(top, bottom))
    ax.set_xlim(3.18, 3.40)
    ax.set_ylim(0, 100)
    ax.patch.set_visible(False)
    ax.set_xticks([])
    ax.set_yticks([0, 50, 100])
    ax.tick_params(axis="y", length=5, width=0.8, labelsize=8.5, pad=2)
    # keep the 0 / 100 labels of neighbouring panels apart
    labs = ax.get_yticklabels()
    labs[0].set_transform(labs[0].get_transform() + nudge_up)
    labs[-1].set_transform(labs[-1].get_transform() + nudge_down)
    for s in ax.spines.values():
        s.set_linewidth(1.0)
    age = np.asarray(age, float)
    vals = np.array(layers, float)
    vals = np.vstack([vals, np.clip(100 - vals.sum(0), 0, None)])
    gaps = np.where(np.isnan(age))[0]
    starts = np.r_[0, gaps + 1]
    ends = np.r_[gaps, len(age)]
    for s, e in zip(starts, ends):
        ax.stackplot(age[s:e], vals[:, s:e], colors=stack_colors, lw=0.3, edgecolor="face")
    return ax


def zeros(ref):
    return [0] * len(ref)


def ordered(ocen, inve, soli, mira, patu, para, acul, zoha, dale, pall, fili, tepi, nema, spin):
    # bottom -> top as drawn in the figure
    return [ocen, inve, soli, mira, patu, para, acul, zoha, nema, spin, dale, pall, fili, tepi]


axg = stack_panel(572, 643, g_age, ordered(g_ocen, g_inve, zeros(g_age), g_mira, g_patu, g_para, g_acul,
                                           zeros(g_age), g_dale, zeros(g_age), g_fili, g_tepi, g_nema, g_spin))
axg.add_patch(Rectangle((3.3046, 0), 0.0078, 100, fc="white", lw=0, zorder=3))
axg.text(3.3085, 50, "coring gap &\ndisturbed section", rotation=90, fontsize=7, ha="center", va="center",
         linespacing=1.0, zorder=4)
axh = stack_panel(653, 724, h_age, ordered(h_ocen, h_inve, zeros(h_age), h_mira, h_patu, h_para, h_acul,
                                           zeros(h_age), h_dale, h_pall, h_fili, zeros(h_age), h_nema, h_spin))
axi = stack_panel(734, 806, i_age, ordered(i_ocen, i_inve, i_soli, zeros(i_age), i_patu, i_para, i_acul,
                                           zeros(i_age), zeros(i_age), i_pall, zeros(i_age), zeros(i_age),
                                           i_nema, i_spin))
axj = stack_panel(816, 887, j_age, ordered(j_ocen, j_inve, zeros(j_age), zeros(j_age), j_patu, zeros(j_age),
                                           j_acul, j_zoha, zeros(j_age), zeros(j_age), j_fili, j_tepi,
                                           j_nema, j_spin))
axj.add_patch(Rectangle((3.2964, 0), 0.0246, 100, fc="white", lw=0, zorder=3))
axj.text(3.3087, 50, "coring gap", fontsize=8.5, ha="center", va="center", zorder=4)

# bottom age axis
axx = fig.add_axes(rect(880, 895))
axx.set_xlim(3.18, 3.40)
axx.patch.set_visible(False)
for s in ("top", "right", "left"):
    axx.spines[s].set_visible(False)
axx.spines["bottom"].set_linewidth(1.0)
axx.set_yticks([])
axx.set_xticks(major)
axx.set_xticklabels([f"{v:.3f}" if i % 2 == 0 else "" for i, v in enumerate(major)])
axx.set_xticks(np.round(np.arange(3.185, 3.40, 0.01), 3), minor=True)
axx.tick_params(axis="x", which="major", length=5, width=0.9, labelsize=9, pad=2)
axx.tick_params(axis="x", which="minor", length=3, width=0.8)

# legend for taxa
leg = fig.add_axes(rect(558, 729, 572, 749))
leg.set_xlim(572, 749)
leg.set_ylim(729, 558)
leg.set_xticks([])
leg.set_yticks([])
for s in leg.spines.values():
    s.set_linewidth(0.9)
renderer = fig.canvas.get_renderer()
inv = leg.transData.inverted()
for i, (pieces, col) in enumerate(zip(legend_labels, legend_colors)):
    y = 566.6 + 11.12 * i
    leg.add_patch(Rectangle((616.5, y - 3.5), 7, 7, fc=col, ec="#555555", lw=0.5))
    x = 628.5
    for txt, ital in pieces:
        t = leg.text(x, y + 0.3, txt, fontsize=5.9, ha="left", va="center",
                     style="italic" if ital else "normal")
        bb = t.get_window_extent(renderer)
        x = inv.transform((bb.x1, bb.y0))[0]
leg.text(591.5, 566.6, "NAC", fontsize=8, ha="center", va="center")
leg.text(591.5, 611, "Warm\nwater\ntaxa", fontsize=8, ha="center", va="center", linespacing=1.15)
leg.text(591.5, 672.5, "Cool\nwater\ntaxa", fontsize=8, ha="center", va="center", linespacing=1.15)
for y0, y1 in [(577.7, 644.4), (655.5, 689)]:
    leg.plot([613, 610, 610, 613], [y0, y0, y1, y1], color="#333333", lw=0.8)

# labels
ftext(418, 10, "Age", fontsize=11, ha="right")
ftext(422, 11, "(Ma)", fontsize=8, ha="left")
ftext(422, 928, "Age", fontsize=11, ha="right")
ftext(426, 929, "(Ma)", fontsize=8, ha="left")
ftext(55, 48, "PMAG", fontsize=9.5)
for lab, y in zip("ABCDEFGHIJ", [48, 110, 220, 313, 413, 509, 605, 688, 768, 851]):
    ftext(765, y, lab, fontsize=10)

ftext(17, 126, r"$\delta^{18}$O$_{\mathrm{benthic}}$", rotation=90, fontsize=11)
ftext(41, 114, "(‰)", rotation=90, fontsize=10)
ftext(83, 113, "LR04", fontsize=9.5, fontweight="bold", ha="left")
fbox(83, 122, 118, 138, C603, "603")
fbox(122, 122, 165, 138, C1308, "U1308")
fbox(83, 140, 118, 155, C610, "610")
fbox(122, 140, 165, 155, C1313, "U1313")

ftext(20, 236, "SST", rotation=90, fontsize=11.5)
ftext(20, 202, "(°C)", rotation=90, fontsize=8.5)
ftext(38, 221, "Alkenone", rotation=90, fontsize=11.5)

ftext(14, 318, r"SST$_{\mathrm{Mg/Ca}}$", rotation=90, fontsize=11.5)
ftext(14, 268, "(°C)", rotation=90, fontsize=8.5)
ftext(33, 295, "0–60 m", rotation=90, fontsize=9)
ftext(45, 306, "G. bulloides", rotation=90, fontsize=9, style="italic")

ftext(14, 424, r"SWT$_{\mathrm{Mg/Ca}}$", rotation=90, fontsize=11.5)
ftext(14, 373, "(°C)", rotation=90, fontsize=8.5)
ftext(33, 405, "300–400 m", rotation=90, fontsize=9)
ftext(45, 407, "G. inflata", rotation=90, fontsize=9, style="italic")

ftext(18, 513, r"$\delta^{18}$O$_{\mathrm{sw-ice}}$", rotation=90, fontsize=11)
ftext(41, 507, "(‰)", rotation=90, fontsize=9)
bg.annotate("", xy=(85 / W, 1 - 472 / H), xycoords="figure fraction", xytext=(85 / W, 1 - 494 / H),
            textcoords="figure fraction", arrowprops=dict(arrowstyle="-|>", color="k", lw=0.9, mutation_scale=7))
bg.annotate("", xy=(85 / W, 1 - 552 / H), xycoords="figure fraction", xytext=(85 / W, 1 - 528 / H),
            textcoords="figure fraction", arrowprops=dict(arrowstyle="-|>", color="k", lw=0.9, mutation_scale=7))
ftext(89, 481, "salinity", fontsize=6.8, ha="left")
ftext(89, 490, "increases", fontsize=6.8, ha="left")
ftext(89, 533, "salinity", fontsize=6.8, ha="left")
ftext(89, 541, "decreases", fontsize=6.8, ha="left")

ftext(27, 732, "Dinoflagellate cyst relative abundances (%)", rotation=90, fontsize=11)
fbox(81, 575, 114, 592, C610, "610", fs=8.5)
fbox(80, 656, 121, 672, C1308, "U1308", fs=8.5)
fbox(80, 737, 121, 753, C1313, "U1313", fs=8.5)
fbox(79, 818, 113, 834, C603, "603", fs=8.5)

fig.savefig("out.png", dpi=100)
